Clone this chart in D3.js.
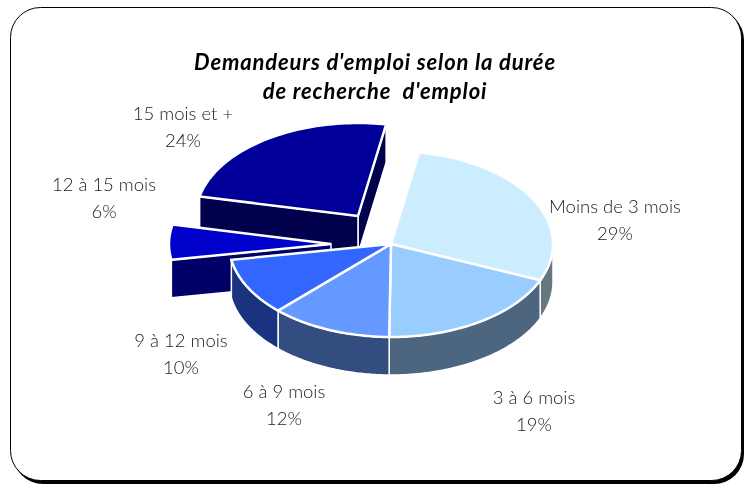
<!DOCTYPE html>
<html><head><meta charset="utf-8">
<script src="https://cdnjs.cloudflare.com/ajax/libs/d3/7.8.5/d3.min.js"></script>
<style>html,body{margin:0;padding:0;background:#fff}svg{display:block}</style>
</head><body><svg id="c" width="752" height="484"></svg>
<script>
const categories = ["Moins de 3 mois","3 à 6 mois","6 à 9 mois","9 à 12 mois","12 à 15 mois","15 mois et +"];
const values = [28.6,18.8,12.1,10.0,6.1,24.4];
const topColors = ["#CCECFF","#99CCFF","#6699FF","#3366FF","#0000CC","#000099"];
const sideColors = ["#667780","#4D6680","#334D80","#1A3380","#000066","#00004C"];
const titleLines = ["Demandeurs d'emploi selon la durée","de recherche  d'emploi"];

// layout
const cx=391, cy=244, rx=162, ry=93, depth=38;
const startDeg=10;
const shifts=[[0,0],[0,0],[0,0],[0,0],[-60,0],[-33,-28]];
const labelPos=[[615,207],[534,398],[284,392],[181,341],[104,185],[183,114]];
const labelGap=26.5;
const font="Lato, 'Open Sans', sans-serif";

const svg=d3.select("#c");
svg.append("rect").attr("x",13).attr("y",10).attr("width",731).attr("height",474).attr("rx",30).attr("fill","#000");
svg.append("rect").attr("x",10.5).attr("y",7.5).attr("width",731).attr("height",473).attr("rx",30).attr("fill","#fff").attr("stroke","#000").attr("stroke-width",1);

const rad=d=>d*Math.PI/180;
const pie=d3.pie().sort(null).startAngle(rad(startDeg)).endAngle(rad(startDeg+360));
const arcs=pie(values).map((a,i)=>({...a,i,s:shifts[i]}));
const pt=(d,t,z=0)=>[cx+d.s[0]+rx*Math.sin(t), cy+d.s[1]-ry*Math.cos(t)+z];
const apex=(d,z=0)=>[cx+d.s[0],cy+d.s[1]+z];
const line=d3.line();
const sample=(a,b)=>d3.range(0,61).map(k=>a+(b-a)*k/60);

function topPath(d){return line([apex(d),...sample(d.startAngle,d.endAngle).map(t=>pt(d,t))])+"Z";}
function outerWall(d){
  const a=Math.max(d.startAngle,Math.PI/2), b=Math.min(d.endAngle,Math.PI*1.5);
  if(a>=b) return null;
  const ts=sample(a,b);
  return line([...ts.map(t=>pt(d,t)),...ts.slice().reverse().map(t=>pt(d,t,depth))])+"Z";
}
function radialWall(d,t){return line([apex(d),pt(d,t),pt(d,t,depth),apex(d,depth)])+"Z";}

const g=svg.append("g");
const wall=(p,d)=>{ if(p) g.append("path").attr("d",p).attr("fill",sideColors[d.i]).attr("stroke","#fff").attr("stroke-width",1.5).attr("stroke-linejoin","miter"); };
const topFace=d=>g.append("path").attr("d",topPath(d)).attr("fill",topColors[d.i]).attr("stroke","#fff").attr("stroke-width",2.5).attr("stroke-linejoin","miter");

// exploded back slices first
const lastSlice=arcs[5], sixth=arcs[4];
wall(radialWall(lastSlice,lastSlice.endAngle),lastSlice);
wall(radialWall(lastSlice,lastSlice.startAngle),lastSlice);
topFace(lastSlice);
wall(radialWall(sixth,sixth.startAngle),sixth);
topFace(sixth);
// main body
arcs.slice(0,4).forEach(d=>wall(outerWall(d),d));
arcs.slice(0,4).forEach(d=>topFace(d));

// labels (greyscale filter removes coloured antialiasing fringes)
const tg=svg.append("g").style("filter","grayscale(1)");
categories.forEach((c,i)=>{
  const [x,y]=labelPos[i];
  const t=tg.append("text").attr("text-anchor","middle").attr("font-family",font).attr("font-weight",300).attr("font-size",18.5).attr("fill","#222");
  t.append("tspan").attr("x",x).attr("y",y+6).text(c);
  t.append("tspan").attr("x",x).attr("y",y+6+labelGap).text(Math.round(values[i])+"%");
});
titleLines.forEach((s,i)=>{
  tg.append("text").attr("x",375).attr("y",70+i*29).attr("text-anchor","middle").style("white-space","pre")
   .attr("font-family",font).attr("font-weight",700).attr("font-style","italic").attr("font-size",22).attr("letter-spacing",0.85).attr("fill","#000").text(s);
});
</script></body></html>
